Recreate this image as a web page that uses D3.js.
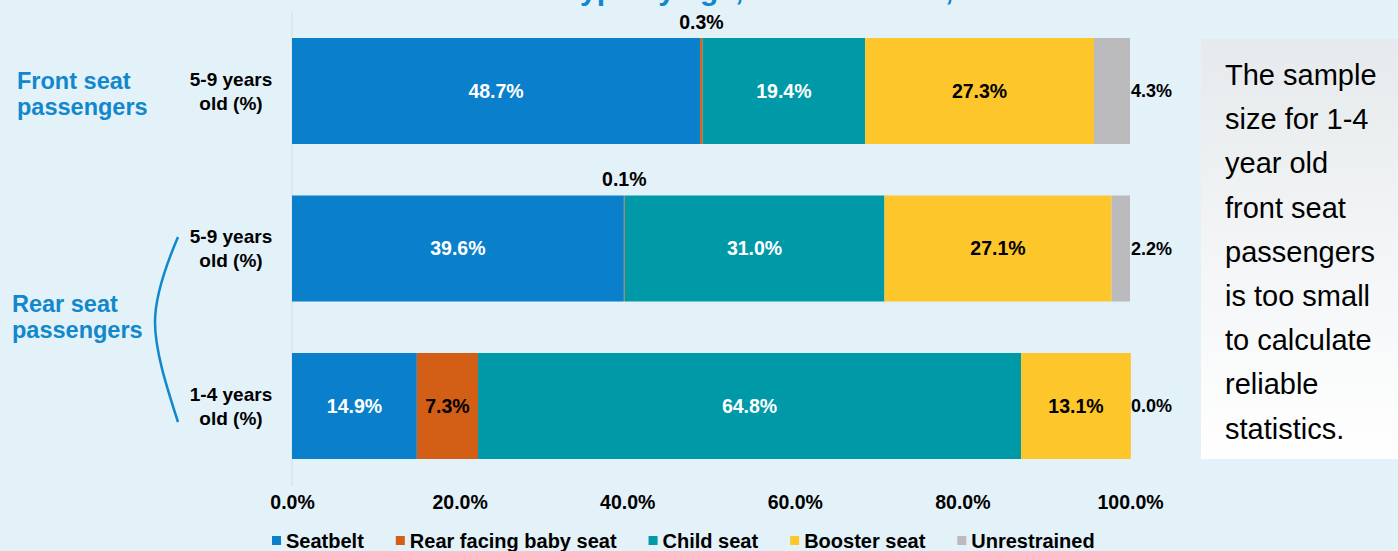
<!DOCTYPE html>
<html><head><meta charset="utf-8">
<script src="https://cdn.jsdelivr.net/npm/d3@7"></script>
<style>
html,body{margin:0;padding:0;background:#E3F1F9;}
svg{display:block;}
</style></head>
<body>
<svg id="c" width="1398" height="551"></svg>
<script>
const rows = ["front59", "rear59", "rear14"];
const rowLabels = [["5-9 years", "old (%)"], ["5-9 years", "old (%)"], ["1-4 years", "old (%)"]];
const series = ["Seatbelt", "Rear facing baby seat", "Child seat", "Booster seat", "Unrestrained"];
const seatbelt = [48.7, 39.6, 14.9];
const rearFacing = [0.3, 0.1, 7.3];
const childSeat = [19.4, 31.0, 64.8];
const booster = [27.3, 27.1, 13.1];
const unrestrained = [4.3, 2.2, 0.0];
const xTicks = [0, 20, 40, 60, 80, 100];
const colors = ["#0A7FCB", "#D35F16", "#0099A8", "#FDC62B", "#BBBBBD"];
const labelColors = ["#FFFFFF", "#000000", "#FFFFFF", "#000000", "#000000"];
const title = "Child restraint type by age, front and rear, 2019";
const noteLines = ["The sample", "size for 1-4", "year old", "front seat", "passengers", "is too small", "to calculate", "reliable", "statistics."];

const values = [seatbelt, rearFacing, childSeat, booster, unrestrained];
const table = rows.map((r, i) => {
  const o = {row: r};
  series.forEach((s, j) => o[s] = values[j][i]);
  return o;
});

const svg = d3.select("#c");
const x = d3.scaleLinear().domain([0, 100]).range([292, 1130]);
const y = d3.scaleBand().domain(rows).range([38, 459]).paddingInner(0.327).paddingOuter(0);
const stack = d3.stack().keys(series)(table);

// title (cut off at the top edge, as in the reference: only descenders show)
const tt = svg.append("text").attr("x", 0).attr("y", 0)
  .attr("font-family", "Liberation Sans, Arial, sans-serif").attr("font-weight", "bold")
  .attr("font-size", 30).attr("fill", "#1188CC").text(title);
const yi = title.indexOf("type") + 1;
tt.attr("x", 580 - tt.node().getSubStringLength(0, yi));

// axis line
svg.append("line").attr("x1", x(0)).attr("x2", x(0)).attr("y1", 12).attr("y2", 486)
  .attr("stroke", "#D6DCE0").attr("stroke-width", 1);

// bars
const g = svg.append("g");
stack.forEach((layer, j) => {
  g.selectAll(null).data(layer).enter().append("rect")
    .attr("x", d => x(d[0])).attr("width", d => Math.max(0, x(d[1]) - x(d[0])))
    .attr("y", (d, i) => y(rows[i])).attr("height", y.bandwidth())
    .attr("fill", colors[j]);
});

// data labels
const lblFont = "Liberation Sans, Arial, sans-serif";
stack.forEach((layer, j) => {
  layer.forEach((d, i) => {
    const v = values[j][i];
    const txt = v.toFixed(1) + "%";
    const cy = y(rows[i]) + y.bandwidth() / 2;
    let tx, ty, anchor = "middle", fill = labelColors[j];
    if (j === 4) { tx = x(100) + 1; ty = cy; anchor = "start"; fill = "#000"; }
    else if (j === 1 && v < 1) { tx = x((d[0] + d[1]) / 2); ty = y(rows[i]) - 16; fill = "#000"; }
    else { tx = x((d[0] + d[1]) / 2); ty = cy; }
    svg.append("text").attr("x", tx).attr("y", ty).attr("dy", "0.35em")
      .attr("text-anchor", anchor).attr("font-family", lblFont).attr("font-weight", "bold")
      .attr("font-size", j === 4 ? 18 : 19.5).attr("fill", fill).text(txt);
  });
});

// x axis tick labels
const axisFont = "Liberation Sans Narrow, Arial Narrow, Liberation Sans, sans-serif";
const xAxis = d3.axisBottom(x).tickValues(xTicks).tickSize(0).tickPadding(0)
  .tickFormat(d => d.toFixed(1) + "%");
const ax = svg.append("g").attr("transform", "translate(0,495)").call(xAxis);
ax.select(".domain").remove();
ax.selectAll("text").attr("font-family", axisFont).attr("font-weight", "bold")
  .attr("font-size", 19.5).attr("fill", "#000");

// row labels
rows.forEach((r, i) => {
  const cy = y(r) + y.bandwidth() / 2;
  rowLabels[i].forEach((t, k) => {
    svg.append("text").attr("x", 231).attr("y", cy - 12 + k * 24).attr("dy", "0.35em")
      .attr("text-anchor", "middle").attr("font-family", lblFont).attr("font-weight", "bold")
      .attr("font-size", 19).attr("fill", "#000").text(t);
  });
});

// group labels
const groupFont = "Liberation Sans, Arial, sans-serif";
[["Front seat", "passengers", 81, 17], ["Rear seat", "passengers", 304, 12]].forEach(gl => {
  [gl[0], gl[1]].forEach((t, k) => {
    svg.append("text").attr("x", gl[3]).attr("y", gl[2] + k * 26).attr("dy", "0.35em")
      .attr("font-family", groupFont).attr("font-weight", "bold").attr("font-size", 23.5)
      .attr("fill", "#1188CC").text(t);
  });
});

// brace
svg.append("path").attr("d", "M178,237 C166,265 155,295 155,322 C155,350 166,385 178,422")
  .attr("fill", "none").attr("stroke", "#1188CC").attr("stroke-width", 2.5);

// note box
const defs = svg.append("defs");
const grad = defs.append("linearGradient").attr("id", "ng").attr("x1", 0).attr("x2", 0).attr("y1", 0).attr("y2", 1);
grad.append("stop").attr("offset", "0%").attr("stop-color", "#E6EAEC");
grad.append("stop").attr("offset", "100%").attr("stop-color", "#FFFFFF");
svg.append("rect").attr("x", 1201).attr("y", 39).attr("width", 197).attr("height", 420).attr("fill", "url(#ng)");
noteLines.forEach((t, k) => {
  svg.append("text").attr("x", 1225).attr("y", 85 + k * 44.2)
    .attr("font-family", "Liberation Sans, Arial, sans-serif").attr("font-size", 29)
    .attr("fill", "#000").text(t);
});

// legend
const leg = svg.append("g");
let lx = 272;
series.forEach((s, j) => {
  leg.append("rect").attr("x", lx).attr("y", 536).attr("width", 9).attr("height", 9).attr("fill", colors[j]);
  const t = leg.append("text").attr("x", lx + 14).attr("y", 541).attr("dy", "0.35em")
    .attr("font-family", axisFont).attr("font-weight", "bold").attr("font-size", 20)
    .attr("fill", "#000").text(s);
  lx += 14 + t.node().getComputedTextLength() + 32;
});
</script>
</body></html>
